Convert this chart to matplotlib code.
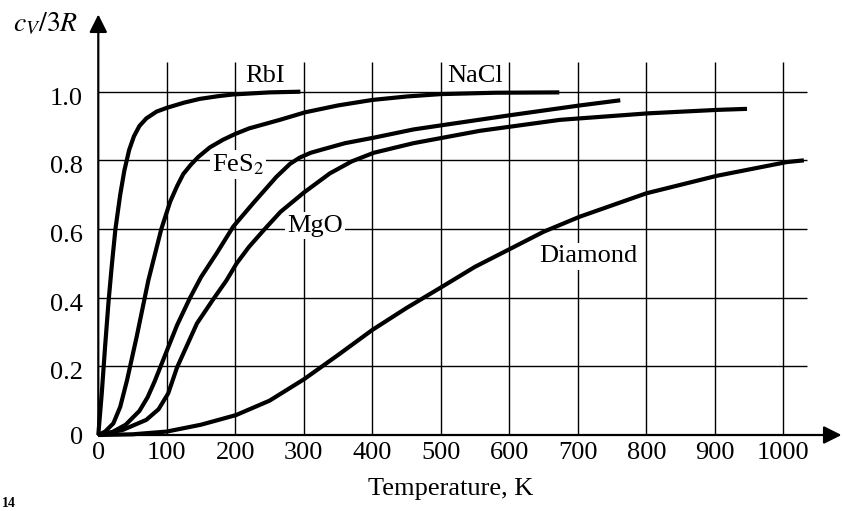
import matplotlib
matplotlib.use('Agg')
import matplotlib.pyplot as plt
import matplotlib.transforms as mtransforms

plt.rcParams['font.family'] = ['Liberation Serif', 'DejaVu Serif']
plt.rcParams['mathtext.fontset'] = 'stix'

# ---- data ----
rbi_T = [0, 5, 10, 15, 20, 25, 32, 38, 45, 52, 60, 70, 85, 100, 125, 148, 175, 197, 250, 295]
rbi_c = [0, 0.12, 0.26, 0.39, 0.50, 0.60, 0.70, 0.77, 0.83, 0.87, 0.9, 0.922, 0.942, 0.953,
         0.968, 0.979, 0.987, 0.992, 0.998, 1.0]

nacl_T = [0, 10, 22, 32, 42, 56, 73, 92, 105, 115, 124, 135, 146, 163, 182, 200, 220, 265, 302,
          350, 400, 450, 500, 580, 673]
nacl_c = [0, 0.01, 0.034, 0.082, 0.16, 0.286, 0.45, 0.60, 0.68, 0.725, 0.76, 0.787, 0.81, 0.838,
          0.86, 0.877, 0.893, 0.918, 0.94, 0.96, 0.976, 0.986, 0.993, 0.997, 0.998]

fes2_T = [0, 20, 40, 60, 72, 82, 91, 100, 115, 134, 150, 173, 197, 226, 260, 280, 294, 310, 324,
          360, 402, 460, 504, 603, 703, 762]
fes2_c = [0, 0.008, 0.03, 0.07, 0.11, 0.155, 0.2, 0.245, 0.32, 0.40, 0.46, 0.53, 0.607, 0.675,
          0.752, 0.79, 0.808, 0.822, 0.83, 0.85, 0.866, 0.89, 0.903, 0.932, 0.96, 0.975]

mgo_T = [0, 36, 70, 88, 102, 115, 144, 168, 187, 202, 220, 243, 266, 300, 338, 370, 402, 460,
         557, 674, 803, 903, 947]
mgo_c = [0, 0.015, 0.044, 0.075, 0.121, 0.197, 0.325, 0.396, 0.45, 0.5, 0.548, 0.6, 0.65, 0.706,
         0.762, 0.797, 0.822, 0.85, 0.886, 0.918, 0.937, 0.947, 0.95]

diamond_T = [0, 50, 100, 150, 201, 250, 300, 350, 400, 450, 502, 550, 603, 650, 703, 800, 903,
             1005, 1030]
diamond_c = [0, 0.002, 0.01, 0.03, 0.058, 0.1, 0.162, 0.233, 0.306, 0.37, 0.432, 0.49, 0.544,
             0.592, 0.636, 0.704, 0.755, 0.795, 0.80]

x_ticks = [0, 100, 200, 300, 400, 500, 600, 700, 800, 900, 1000]
x_tick_labels = ['0', '100', '200', '300', '400', '500', '600', '700', '800', '900', '1000']
y_ticks = [0, 0.2, 0.4, 0.6, 0.8, 1.0]
y_tick_labels = ['0', '0.2', '0.4', '0.6', '0.8', '1.0']

labels = ['RbI', 'NaCl', 'FeS$_2$', 'MgO', 'Diamond']
label_pos = [(244, 1.045), (550, 1.045), (204, 0.787), (317, 0.61), (715, 0.52)]

# ---- figure ----
W, H = 843, 511
fig = plt.figure(figsize=(W / 100, H / 100), dpi=100)
xmax, ymax = 1086, 1.235
pxT, pxC = 0.685, 343.3
ax = fig.add_axes([98.3 / W, 76 / H, xmax * pxT / W, ymax * pxC / H])
ax.set_xlim(0, xmax)
ax.set_ylim(0, ymax)
for s in ax.spines.values():
    s.set_visible(False)

# grid
ax.vlines(x_ticks[1:], 0, 1.087, color='black', lw=1.0, zorder=1)
ax.hlines(y_ticks[1:], 0, 1034, color='black', lw=1.0, zorder=1)

# axes with arrows
arrow = dict(arrowstyle='-|>', color='black', lw=1.6, mutation_scale=27, shrinkA=0, shrinkB=0)
ax.annotate('', xy=(xmax - 1, 0), xytext=(0, 0), arrowprops=arrow, annotation_clip=False, zorder=3)
ax.annotate('', xy=(0, 1.225), xytext=(0, 0), arrowprops=arrow, annotation_clip=False, zorder=3)

# curves
for T, c in [(rbi_T, rbi_c), (nacl_T, nacl_c), (fes2_T, fes2_c), (mgo_T, mgo_c),
             (diamond_T, diamond_c)]:
    ax.plot(T, c, color='black', lw=3.0, solid_joinstyle='round', solid_capstyle='butt',
            clip_on=False, zorder=4)

# curve labels
for i, (txt, (x, y)) in enumerate(zip(labels, label_pos)):
    bb = None if i < 2 else dict(facecolor='white', edgecolor='none', pad=1.5)
    ax.text(x, y, txt, ha='center', va='center', fontsize=19, bbox=bb, zorder=2)

# ticks
ax.set_xticks(x_ticks, x_tick_labels)
ax.set_yticks(y_ticks, y_tick_labels)
ax.tick_params(length=0, labelsize=19)
ax.tick_params(axis='x', pad=5)
ax.tick_params(axis='y', pad=11)
off = mtransforms.ScaledTranslation(0, -4.5 / 100, fig.dpi_scale_trans)
for lab in ax.get_yticklabels()[1:]:
    lab.set_transform(lab.get_transform() + off)

ax.text(514, 0, 'Temperature, K', fontsize=19, ha='center', va='center',
        transform=mtransforms.offset_copy(ax.transData, fig=fig, x=0, y=-54, units='dots'))
fig.text(45.5 / W, 1 - 24 / H, r'$c_V/3R$', fontsize=20, ha='center', va='center')
fig.text(2 / W, 1 / H, '14', fontsize=10, fontweight='bold', ha='left', va='bottom')

fig.savefig('out.png', dpi=100)
